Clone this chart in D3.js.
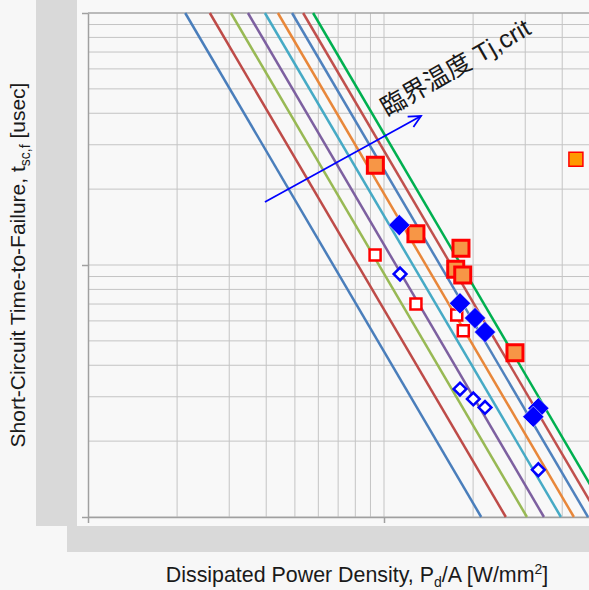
<!DOCTYPE html>
<html>
<head>
<meta charset="utf-8">
<script src="https://cdn.jsdelivr.net/npm/d3@7"></script>
<style>
  body { margin: 0; background: #f7f7f7; }
  svg text { font-family: 'Liberation Sans', Arial, 'Noto Sans CJK JP', sans-serif; fill: #1a1a1a; }
</style>
</head>
<body>
<div id="tsc-graph"></div>
<script>
// Tj,crit lines (t ~ (P/A)^-2): power density where each line meets t = 100 usec and t = 1 usec
const lineColors = ['#4a7ebb', '#be4b48', '#98b954', '#7d60a0', '#46aac5', '#e8873a', '#4f81bd', '#c0504d', '#00b050']
const lineTop = [213, 258, 304, 347, 396, 438, 489, 533, 576]
const lineBottom = [2130, 2580, 3040, 3470, 3960, 4380, 4890, 5330, 5760]

// measured points, [P/A in W/mm2, t in usec]
const orangeSquares = [[935, 24.9], [1282, 13.3], [1820, 11.65], [1747, 9.61], [1845, 9.13], [2770, 4.49]]
const outlierSquare = [[4450, 26.3]]
const openSquares = [[933, 10.96], [1282, 7.0], [1761, 6.33], [1853, 5.49]]
const blueDiamonds = [[1126, 14.4], [1806, 7.05], [2030, 6.16], [2194, 5.42], [3322, 2.7], [3195, 2.5]]
const openDiamonds = [[1133, 9.21], [1806, 3.22], [2003, 2.94], [2194, 2.72], [3322, 1.54]]

// arrow from / to, and label
const arrowFrom = [396, 17.8]
const arrowTo = [1334, 39]
const arrowLabel = '臨界温度 Tj,crit'

// grid values
const xGrid = [200, 300, 400, 500, 600, 700, 800, 900, 1000, 2000, 3000, 4000, 5000, 6000, 7000, 8000, 9000]
const yGrid = [1, 2, 3, 4, 5, 6, 7, 8, 9, 10, 20, 30, 40, 50, 60, 70, 80, 90, 100]
const xMajor = [100, 1000, 10000]
const yMajor = [1, 10, 100]

const W = 589
const H = 590
const margin = { top: 13, left: 88 }
const width = 592
const height = 504

const svg = d3
  .select('#tsc-graph')
  .append('svg')
  .attr('width', W)
  .attr('height', H)

svg.append('rect').attr('width', W).attr('height', H).attr('fill', '#f7f7f7')

// grey bands where the tick labels used to be
svg.append('rect').attr('x', 36).attr('y', 0).attr('width', 41).attr('height', 526).attr('fill', '#d9d9d9')
svg.append('rect').attr('x', 67).attr('y', 526).attr('width', W - 67).attr('height', 26).attr('fill', '#d9d9d9')
svg.append('rect').attr('x', 77).attr('y', 0).attr('width', W - 77).attr('height', 526).attr('fill', '#f8f8f8')

const g = svg.append('g').attr('transform', 'translate(' + margin.left + ',' + margin.top + ')')

const x = d3.scaleLog().domain([100, 10000]).range([0, width])
const y = d3.scaleLog().domain([1, 100]).range([height, 0])

// gridlines
g.selectAll('.vgrid')
  .data(xGrid)
  .enter()
  .append('line')
  .attr('x1', d => x(d))
  .attr('x2', d => x(d))
  .attr('y1', 0)
  .attr('y2', height)
  .attr('stroke', '#c4c4c4')
  .attr('stroke-width', 1)

g.selectAll('.hgrid')
  .data(yGrid)
  .enter()
  .append('line')
  .attr('x1', 0)
  .attr('x2', width)
  .attr('y1', d => y(d))
  .attr('y2', d => y(d))
  .attr('stroke', d => (d === 100 ? '#a6a6a6' : '#c4c4c4'))
  .attr('stroke-width', d => (d === 100 ? 1.5 : 1))

// axes, no labels
const yAxis = g
  .append('g')
  .call(d3.axisLeft(y).tickValues(yMajor).tickSize(6).tickSizeOuter(0).tickFormat(''))
const xAxis = g
  .append('g')
  .attr('transform', 'translate(0,' + height + ')')
  .call(d3.axisBottom(x).tickValues(xMajor).tickSize(6).tickSizeOuter(0).tickFormat(''))
;[yAxis, xAxis].forEach(a => {
  a.selectAll('path, line').attr('stroke', '#a0a0a0').attr('stroke-width', 1.5)
})

// Tj,crit lines
const lines = lineColors.map((c, i) => ({ color: c, pts: [[lineTop[i], 100], [lineBottom[i], 1]] }))
const lineGen = d3.line().x(d => x(d[0])).y(d => y(d[1]))
g.selectAll('.tj')
  .data(lines)
  .enter()
  .append('path')
  .attr('d', d => lineGen(d.pts))
  .attr('fill', 'none')
  .attr('stroke', d => d.color)
  .attr('stroke-width', 2.5)

// arrow
svg
  .append('defs')
  .append('marker')
  .attr('id', 'head')
  .attr('markerUnits', 'userSpaceOnUse')
  .attr('viewBox', '-14 -8 16 16')
  .attr('markerWidth', 16)
  .attr('markerHeight', 16)
  .attr('orient', 'auto')
  .append('path')
  .attr('d', 'M-12,-6L0,0L-12,6')
  .attr('fill', 'none')
  .attr('stroke', '#0000ff')
  .attr('stroke-width', 1.75)

g.append('line')
  .attr('x1', x(arrowFrom[0]))
  .attr('y1', y(arrowFrom[1]))
  .attr('x2', x(arrowTo[0]))
  .attr('y2', y(arrowTo[1]))
  .attr('stroke', '#0000ff')
  .attr('stroke-width', 1.75)
  .attr('marker-end', 'url(#head)')

g.append('text')
  .attr('transform', 'translate(' + (x(arrowTo[0]) - 34) + ',' + (y(arrowTo[1]) + 1) + ') rotate(-30)')
  .style('font-size', '25px')
  .text(arrowLabel)

// markers
const sq = side => d3.symbol().type(d3.symbolSquare).size(side * side)()
const pos = d => 'translate(' + x(d[0]) + ',' + y(d[1]) + ')'

g.selectAll('.osq')
  .data(orangeSquares)
  .enter()
  .append('path')
  .attr('d', sq(16))
  .attr('transform', pos)
  .attr('fill', '#f79646')
  .attr('stroke', '#ff0000')
  .attr('stroke-width', 3)

g.selectAll('.out')
  .data(outlierSquare)
  .enter()
  .append('path')
  .attr('d', sq(14))
  .attr('transform', pos)
  .attr('fill', '#ff9900')
  .attr('stroke', '#ff0000')
  .attr('stroke-width', 1.5)

g.selectAll('.wsq')
  .data(openSquares)
  .enter()
  .append('path')
  .attr('d', sq(11))
  .attr('transform', pos)
  .attr('fill', '#ffffff')
  .attr('stroke', '#ff0000')
  .attr('stroke-width', 2.5)

g.selectAll('.bdi')
  .data(blueDiamonds)
  .enter()
  .append('path')
  .attr('d', sq(15))
  .attr('transform', d => pos(d) + ' rotate(45)')
  .attr('fill', '#0000ff')
  .attr('stroke', '#ffffff')
  .attr('stroke-width', 0.5)

g.selectAll('.wdi')
  .data(openDiamonds)
  .enter()
  .append('path')
  .attr('d', sq(9))
  .attr('transform', d => pos(d) + ' rotate(45)')
  .attr('fill', '#ffffff')
  .attr('stroke', '#0000ff')
  .attr('stroke-width', 2.5)

// axis titles
const yTitle = svg
  .append('text')
  .attr('transform', 'translate(25,265) rotate(-90)')
  .attr('text-anchor', 'middle')
  .style('font-size', '21px')
yTitle.append('tspan').text('Short-Circuit Time-to-Failure, t')
yTitle.append('tspan').attr('dy', 5).style('font-size', '14px').text('sc,f')
yTitle.append('tspan').attr('dy', -5).text(' [usec]')

const xTitle = svg
  .append('text')
  .attr('x', 357)
  .attr('y', 582)
  .attr('text-anchor', 'middle')
  .style('font-size', '21.4px')
xTitle.append('tspan').text('Dissipated Power Density, P')
xTitle.append('tspan').attr('dy', 5).style('font-size', '14px').text('d')
xTitle.append('tspan').attr('dy', -5).text('/A [W/mm')
xTitle.append('tspan').attr('dy', -8).style('font-size', '14px').text('2')
xTitle.append('tspan').attr('dy', 8).text(']')
</script>
</body>
</html>
